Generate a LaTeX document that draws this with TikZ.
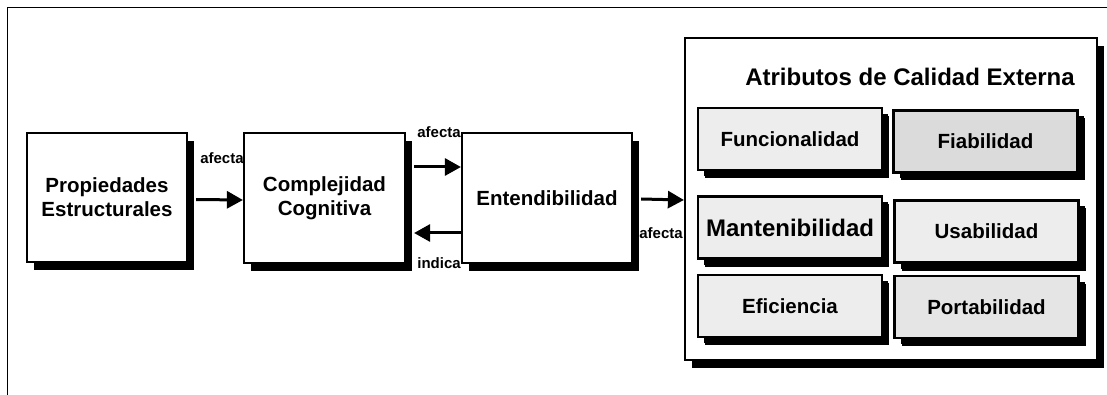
\documentclass[tikz,border=0pt]{standalone}
\usepackage{fontspec}
\setmainfont{Liberation Sans}
\usetikzlibrary{arrows.meta,shadows}
\begin{document}
\begin{tikzpicture}[x=1pt,y=-1pt,
  every node/.style={font=\fontsize{20.5}{24}\selectfont\bfseries},
  blockbox/.style={draw,line width=2.2pt,fill=white,align=center,
    drop shadow={shadow xshift=7pt,shadow yshift=-8pt,fill=black,opacity=1}},
  attrbox/.style={blockbox,fill=gray!14,minimum width=184pt,minimum height=62pt,
    drop shadow={shadow xshift=6pt,shadow yshift=-6pt,fill=black,opacity=1}},
  conn/.style={line width=3pt,-{Triangle[length=16pt,width=17pt]}},
  lbl/.style={font=\fontsize{15}{17}\selectfont\bfseries,inner sep=0pt}]
\useasboundingbox (0,0) rectangle (1107,395);
\draw[line width=1pt] (7,395) -- (7,8) -- (1107,8);
\node[blockbox,minimum width=160pt,minimum height=129pt] (prop) at (107,197.5) {Propiedades\\Estructurales};
\node[blockbox,minimum width=161pt,minimum height=130pt] (comp) at (324.5,198) {Complejidad\\Cognitiva};
\node[blockbox,minimum width=170pt,minimum height=130pt] (ent) at (547,198) {Entendibilidad};
\node[blockbox,minimum width=412pt,minimum height=322pt] (ext) at (891,199) {};
\node[font=\fontsize{24}{28}\selectfont\bfseries] (tit) at (910,77) {Atributos de Calidad Externa};
\node[attrbox] (func) at (790,139) {Funcionalidad};
\node[attrbox,fill=gray!28] (fiab) at (985.5,141.5) {Fiabilidad};
\node[attrbox,font=\fontsize{24}{28}\selectfont\bfseries] (mant) at (790,227.5) {Mantenibilidad};
\node[attrbox] (usab) at (986.5,231.5) {Usabilidad};
\node[attrbox] (efic) at (790,306) {Eficiencia};
\node[attrbox,fill=gray!20] (port) at (986.5,307) {Portabilidad};
\draw[conn] ([xshift=8pt,yshift=-2pt]prop.east) -- ([yshift=-2pt]comp.west);
\draw[conn] ([xshift=8pt,yshift=31pt]comp.east) -- ([yshift=31pt]ent.west);
\draw[conn] ([yshift=-35pt]ent.west) -- ([xshift=8pt,yshift=-35pt]comp.east);
\draw[conn] ([xshift=8pt,yshift=-1pt]ent.east) -- ([yshift=-1pt]ext.west);
\node[lbl] (l1) at (222,158) {afecta};
\node[lbl] (l2) at (439,132) {afecta};
\node[lbl] (l3) at (439,263) {indica};
\node[lbl] (l4) at (661,233) {afecta};
\end{tikzpicture}
\end{document}
